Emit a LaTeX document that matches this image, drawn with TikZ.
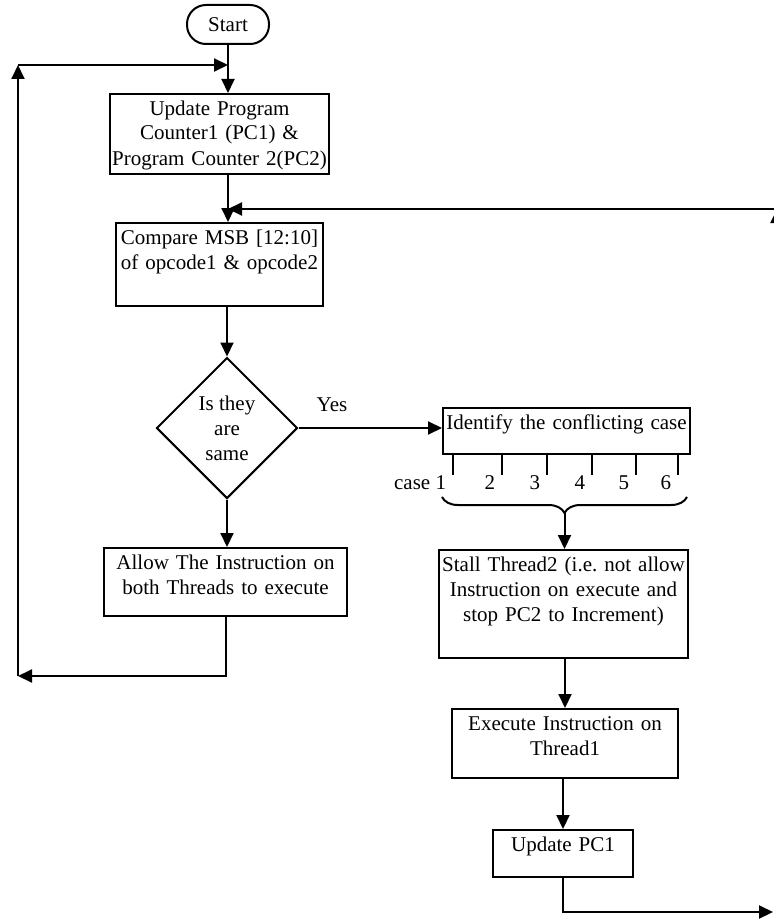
\documentclass[tikz,border=0pt]{standalone}
\usepackage{fontspec}
\setmainfont{Liberation Serif}
\usetikzlibrary{shapes.geometric,arrows.meta,decorations.pathreplacing}
\frenchspacing
\begin{document}
\begin{tikzpicture}[x=0.5pt, y=-0.5pt, line width=1pt, font=\fontsize{10.5}{12.5}\selectfont]
		\tikzset{blk/.style={rectangle, draw=black, inner sep=0pt, align=center, text height=10.5pt}};
		\tikzset{term/.style={rectangle, draw=black, rounded corners=9.5pt, minimum width=41pt, minimum height=19.5pt}};
		\tikzset{dec/.style={diamond, draw=black, aspect=1, minimum size=70.5pt, inner sep=0pt, align=center}};
		\tikzset{arr/.style={-{Triangle[length=7pt, width=6.5pt]}}};

		\useasboundingbox (0,0) rectangle (773,920);

		\node[term] (start) at (228,24.5) {Start};
		\node[blk, text width=109.5pt, text depth=29.5pt] (upd) at (219.5,134) {Update Program\\ Counter1 (PC1) \&\\ Program Counter 2(PC2)};
		\node[blk, text width=103.5pt, text depth=31pt] (cmp) at (219.5,264.5) {Compare MSB [12:10]\\ of opcode1 \& opcode2};
		\node[dec] (same) at (227,428) {Is they\\ are\\ same};
		\node[blk, text width=121.5pt, text depth=23.5pt] (allow) at (225.5,582) {Allow The Instruction on\\ both Threads to execute};
		\node[blk, text width=123.5pt, text depth=12.5pt] (idf) at (566.5,431) {Identify the conflicting case};
		\node[blk, text width=124.5pt, text depth=43.5pt] (stall) at (563.5,604) {Stall Thread2 (i.e. not allow\\ Instruction on execute and\\ stop PC2 to Increment)};
		\node[blk, text width=113pt, text depth=24pt] (exe) at (565,743.5) {Execute Instruction on\\ Thread1};
		\node[blk, text width=70pt, text depth=13pt] (pc1) at (563,853.5) {Update PC1};

		\node (yes) at (332,405) {Yes};

		\coordinate (lt) at (18,65);
		\coordinate (lb) at (18,676);
		\coordinate (rt) at (777,209);
		\coordinate (rb) at (773,912);
		\coordinate (ru) at (777,912);
		\coordinate (brc) at (564.5,513);

		\draw[arr] (start) -- (start |- upd.north);
		\draw[arr] (upd.south -| start) -- (cmp.north -| start);
		\draw[arr] (cmp.south -| same) -- (same.north);
		\draw[arr] (same.south) -- (same.south |- allow.north);
		\draw[arr] (same.east) -- (same.east -| idf.west);

		% cases under the identify box
		\foreach \x/\t [count=\i] in {453/case 1, 502/2, 547/3, 592/4, 636/5, 678/6} {
			\draw (\x,454) -- (\x,475);
			\node[anchor=east, inner sep=0pt] (case\i) at (\x-6,483) {\t};
		}
		\draw[decorate, decoration={brace, mirror, amplitude=8pt}] (442,497) -- (687,497);

		\draw[arr] (brc) -- (brc |- stall.north);
		\draw[arr] (stall.south -| exe) -- (exe.north);
		\draw[arr] (exe.south -| pc1) -- (pc1.north);

		% loop back to the top
		\draw[arr] (allow.south) |- (lb);
		\draw[arr] (lb) -- (lt);
		\draw[arr] (lt) -- (lt -| start);

		% loop back to compare
		\draw[arr] (pc1.south) |- (rb);
		\draw[arr] (ru) -- (rt);
		\draw[arr] (rt) -- (rt -| start);
	\end{tikzpicture}
\end{document}
